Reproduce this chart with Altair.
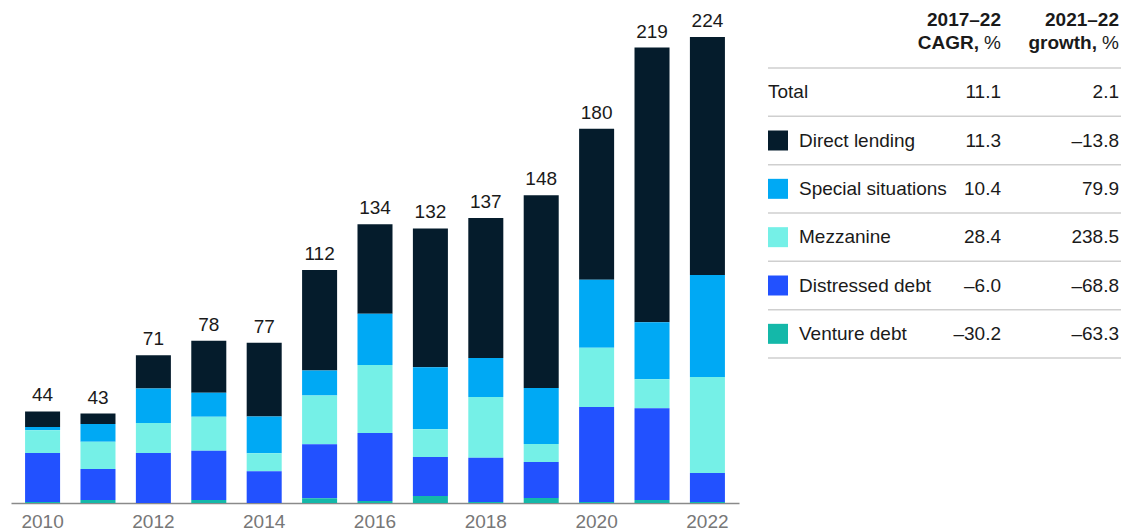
import altair as alt
import pandas as pd

# ---- data ----
years = ["2010", "2011", "2012", "2013", "2014", "2015", "2016",
         "2017", "2018", "2019", "2020", "2021", "2022"]
totals = [44, 43, 71, 78, 77, 112, 134, 132, 137, 148, 180, 219, 224]

direct_lending = [7.5, 5.0, 16.0, 25.0, 35.4, 48.3, 43.0, 66.7, 67.3, 92.7, 72.7, 132.1, 114.4]
special_situations = [1.5, 8.6, 16.5, 11.5, 17.7, 12.0, 24.6, 29.8, 18.7, 26.9, 32.7, 27.4, 49.0]
mezzanine = [11.0, 13.0, 14.5, 16.4, 8.6, 23.4, 32.7, 13.4, 29.3, 8.7, 28.4, 13.9, 46.2]
distressed_debt = [23.5, 15.0, 24.0, 23.7, 15.3, 26.0, 32.7, 18.7, 21.2, 17.3, 45.7, 44.2, 13.9]
venture_debt = [0.5, 1.4, 0.0, 1.4, 0.0, 2.3, 1.0, 3.4, 0.5, 2.4, 0.5, 1.4, 0.5]

series_names = ["Direct lending", "Special situations", "Mezzanine",
                "Distressed debt", "Venture debt"]
series_values = [direct_lending, special_situations, mezzanine,
                 distressed_debt, venture_debt]
series_colors = ["#051C2C", "#00A9F4", "#75F0E7", "#2251FF", "#14B8A9"]

table_rows = ["Total", "Direct lending", "Special situations", "Mezzanine",
              "Distressed debt", "Venture debt"]
cagr_2017_22 = ["11.1", "11.3", "10.4", "28.4", "\u20136.0", "\u201330.2"]
growth_2021_22 = ["2.1", "\u201313.8", "79.9", "238.5", "\u201368.8", "\u201363.3"]

axis_years = ["2010", "2012", "2014", "2016", "2018", "2020", "2022"]

FONT = "Liberation Sans"
TEXT = "#1a1a1a"
NO_VIEW = alt.ViewBackground(stroke="transparent", strokeWidth=0)

# ---- long tables ----
recs = []
for name, vals in zip(series_names, series_values):
    stack_rank = len(series_names) - series_names.index(name)
    for y, v in zip(years, vals):
        recs.append({"year": y, "series": name, "value": v, "rank": stack_rank})
bars_df = pd.DataFrame(recs)
totals_df = pd.DataFrame({"year": years, "total": totals})
table_df = pd.DataFrame({"row": table_rows, "cagr": cagr_2017_22, "growth": growth_2021_22})

color_scale = alt.Scale(domain=series_names, range=series_colors)

x_enc = alt.X(
    "year:O",
    scale=alt.Scale(paddingInner=0.368, paddingOuter=0.254),
    axis=alt.Axis(values=axis_years, title=None, labelAngle=0, ticks=False,
                  domainColor="#8a8a8a", domainWidth=1.5, labelColor="#777777",
                  labelFontSize=19, labelPadding=9, labelFont=FONT),
)
y_scale = alt.Scale(domain=[0, 238], nice=False, zero=True)

bars = alt.Chart(bars_df).mark_bar().encode(
    x=x_enc,
    y=alt.Y("value:Q", stack="zero", scale=y_scale, axis=None),
    color=alt.Color("series:N", scale=color_scale, legend=None),
    order=alt.Order("rank:Q", sort="ascending"),
)

labels = alt.Chart(totals_df).mark_text(
    dy=-10, baseline="alphabetic", fontSize=19, font=FONT, color=TEXT
).encode(
    x=alt.X("year:O"),
    y=alt.Y("total:Q", scale=y_scale, axis=None),
    text=alt.Text("total:Q"),
)

bar_chart = alt.layer(bars, labels).properties(width=728, height=495, view=NO_VIEW)

# ---- table ----
def row_scale():
    return alt.Scale(range=[60, 350], paddingInner=0, paddingOuter=0)

row_y = alt.Y("row:N", sort=table_rows, scale=row_scale(), axis=None)
base = alt.Chart(table_df)

L0, L1 = 29, 382      # rule extent
SQ, LBL = 39, 60      # square centre, label start
C1, C2 = 262, 380     # right edges of value columns

rules_top = base.mark_rule(color="#cfcfcf", strokeWidth=1.5).encode(
    x=alt.value(L0), x2=alt.value(L1),
    y=alt.Y("row:N", sort=table_rows, bandPosition=0, scale=row_scale(), axis=None),
)
rule_bottom = base.transform_filter(alt.datum.row == table_rows[-1]).mark_rule(
    color="#cfcfcf", strokeWidth=1.5
).encode(
    x=alt.value(L0), x2=alt.value(L1),
    y=alt.Y("row:N", sort=table_rows, bandPosition=1, scale=row_scale(), axis=None),
)

squares = base.transform_filter(alt.datum.row != "Total").mark_square(
    size=400, opacity=1
).encode(
    x=alt.value(SQ), y=row_y,
    color=alt.Color("row:N", scale=color_scale, legend=None),
)

txt = dict(fontSize=19, font=FONT, color=TEXT, baseline="middle")
total_label = base.transform_filter(alt.datum.row == "Total").mark_text(
    align="left", **txt).encode(x=alt.value(L0), y=row_y, text="row:N")
row_labels = base.transform_filter(alt.datum.row != "Total").mark_text(
    align="left", **txt).encode(x=alt.value(LBL), y=row_y, text="row:N")
cagr_txt = base.mark_text(align="right", **txt).encode(
    x=alt.value(C1), y=row_y, text="cagr:N")
growth_txt = base.mark_text(align="right", **txt).encode(
    x=alt.value(C2), y=row_y, text="growth:N")

hdr_df = pd.DataFrame({"h1": ["2017\u201322"], "h2": ["2021\u201322"],
                       "c": ["CAGR,"], "g": ["growth,"], "p": ["%"]})
hb = alt.Chart(hdr_df)
bold = dict(fontSize=19, font=FONT, color=TEXT, fontWeight="bold",
            baseline="middle", align="right")
reg = dict(fontSize=19, font=FONT, color=TEXT, baseline="middle", align="right")
h1 = hb.mark_text(**bold).encode(x=alt.value(C1), y=alt.value(12), text="h1:N")
h2 = hb.mark_text(**bold).encode(x=alt.value(C2), y=alt.value(12), text="h2:N")
h3 = hb.mark_text(**bold).encode(x=alt.value(C1 - 22), y=alt.value(35), text="c:N")
h4 = hb.mark_text(**reg).encode(x=alt.value(C1), y=alt.value(35), text="p:N")
h5 = hb.mark_text(**bold).encode(x=alt.value(C2 - 22), y=alt.value(35), text="g:N")
h6 = hb.mark_text(**reg).encode(x=alt.value(C2), y=alt.value(35), text="p:N")

table_chart = alt.layer(
    rules_top, rule_bottom, squares, total_label, row_labels, cagr_txt, growth_txt,
    h1, h2, h3, h4, h5, h6
).properties(width=385, height=495, view=NO_VIEW)

chart = alt.hconcat(bar_chart, table_chart, spacing=0).resolve_scale(
    color="shared"
).properties(
    padding={"left": 3, "top": 0, "right": 0, "bottom": 0}
).configure_view(strokeWidth=0, stroke="transparent").configure(font=FONT)

chart.save("out.html", embed_options={"renderer": "svg", "actions": False})
